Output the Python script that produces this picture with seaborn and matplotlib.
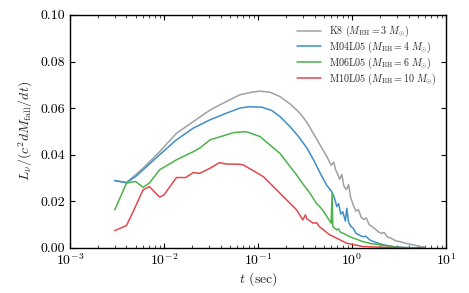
import numpy as np
import pandas as pd
import seaborn as sns
import matplotlib
matplotlib.use("Agg")
import matplotlib.pyplot as plt
from matplotlib.ticker import LogLocator, NullFormatter

# ---- data ----
labels = [r"K8 ($M_{\rm BH}=3\ M_{\odot}$)",
          r"M04L05 ($M_{\rm BH}=4\ M_{\odot}$)",
          r"M06L05 ($M_{\rm BH}=6\ M_{\odot}$)",
          r"M10L05 ($M_{\rm BH}=10\ M_{\odot}$)"]
colors = ["#a0a0a0", "#3d8fc9", "#4cb34c", "#e04a4f"]

t_k8 = [0.003, 0.004, 0.006, 0.009, 0.0136, 0.0205, 0.031, 0.046, 0.064, 0.085,
        0.105, 0.135, 0.171, 0.22, 0.28, 0.33, 0.39, 0.46, 0.54, 0.60, 0.64, 0.67,
        0.70, 0.74, 0.78, 0.82, 0.87, 0.92, 0.97, 1.03, 1.1, 1.17, 1.25, 1.33, 1.42,
        1.52, 1.62, 1.75, 1.9, 2.05, 2.2, 2.4, 2.6, 2.8, 3.0, 3.3, 3.6, 4.0, 4.5,
        5.0, 5.7, 6.0]
L_k8 = [0.0289, 0.0280, 0.0342, 0.0413, 0.0492, 0.0542, 0.0592, 0.0628, 0.0657, 0.0668,
        0.0673, 0.0668, 0.0650, 0.0618, 0.0578, 0.0540, 0.0490, 0.0440, 0.0392, 0.0355,
        0.0368, 0.0335, 0.0320, 0.0295, 0.0315, 0.0265, 0.0250, 0.0272, 0.0215, 0.0185,
        0.0158, 0.0165, 0.0132, 0.0122, 0.0128, 0.0100, 0.0092, 0.0082, 0.0070, 0.0062,
        0.0066, 0.0046, 0.0042, 0.0034, 0.0029, 0.0026, 0.0021, 0.0017, 0.0013, 0.0008,
        0.0004, 0.0002]

t_m04 = [0.003, 0.004, 0.005, 0.006, 0.009, 0.0136, 0.0205, 0.031, 0.046, 0.064, 0.08,
         0.11, 0.14, 0.171, 0.22, 0.27, 0.33, 0.39, 0.46, 0.54, 0.60, 0.62, 0.65, 0.69,
         0.72, 0.76, 0.80, 0.85, 0.88, 0.92, 0.97, 1.03, 1.1, 1.2, 1.3, 1.4, 1.55, 1.75,
         2.0, 2.3, 2.7, 3.0, 3.5, 4.5]
L_m04 = [0.0289, 0.0280, 0.0306, 0.0335, 0.0400, 0.0464, 0.0514, 0.0550, 0.0578, 0.0600,
         0.0606, 0.0604, 0.0590, 0.0564, 0.0520, 0.0478, 0.0430, 0.0378, 0.0320, 0.0268,
         0.0245, 0.0235, 0.0215, 0.0177, 0.0190, 0.0145, 0.0155, 0.0115, 0.0170, 0.0110,
         0.0092, 0.0085, 0.0063, 0.0055, 0.0048, 0.0050, 0.0034, 0.0025, 0.0017, 0.0011,
         0.0006, 0.0004, 0.0002, 0.0001]

t_m06 = [0.003, 0.004, 0.005, 0.006, 0.007, 0.009, 0.0136, 0.0205, 0.024, 0.031, 0.046,
         0.055, 0.075, 0.105, 0.171, 0.258, 0.30, 0.357, 0.42, 0.46, 0.50, 0.60, 0.615,
         0.625, 0.65, 0.69, 0.72, 0.75, 0.80, 0.85, 0.95, 1.1, 1.3, 1.6, 2.0, 2.5, 3.0, 3.5]
L_m06 = [0.0163, 0.0278, 0.0285, 0.0260, 0.0278, 0.0335, 0.0378, 0.0413, 0.0428, 0.0464,
         0.0485, 0.0495, 0.0499, 0.0478, 0.0406, 0.0313, 0.0275, 0.0235, 0.0190, 0.0175,
         0.0156, 0.0106, 0.0235, 0.0092, 0.0085, 0.0077, 0.0082, 0.0068, 0.0063, 0.0058,
         0.0048, 0.0038, 0.0027, 0.0018, 0.0013, 0.0007, 0.0002, 0.0001]

t_m10 = [0.003, 0.004, 0.0048, 0.006, 0.007, 0.009, 0.010, 0.0136, 0.017, 0.0205, 0.024,
         0.031, 0.039, 0.046, 0.064, 0.070, 0.114, 0.171, 0.258, 0.30, 0.32, 0.33, 0.36,
         0.387, 0.42, 0.45, 0.58, 0.70, 0.877, 1.3, 2.0, 3.0, 6.0]
L_m10 = [0.0074, 0.0096, 0.0163, 0.0249, 0.0263, 0.0218, 0.0227, 0.0302, 0.0302, 0.0323,
         0.0320, 0.0342, 0.0366, 0.0360, 0.0359, 0.0356, 0.0306, 0.0235, 0.0163, 0.0120,
         0.0142, 0.0125, 0.0115, 0.0106, 0.0108, 0.0091, 0.0056, 0.0040, 0.0020, 0.0006,
         0.0003, 0.0001, 0.0]

series_t = [t_k8, t_m04, t_m06, t_m10]
series_L = [L_k8, L_m04, L_m06, L_m10]

# ---- style ----
sns.set_theme(style="ticks")
plt.rcParams.update({
    "font.family": ["cmr10", "DejaVu Serif"],
    "mathtext.fontset": "cm",
    "axes.formatter.use_mathtext": True,
    "axes.unicode_minus": False,
    "font.size": 10,
    "xtick.direction": "in",
    "ytick.direction": "in",
    "xtick.top": True,
    "ytick.right": True,
    "axes.linewidth": 1.0,
    "axes.edgecolor": "black",
})

frames = []
for lab, t, L in zip(labels, series_t, series_L):
    frames.append(pd.DataFrame({"t": t, "L": L, "model": lab}))
df = pd.concat(frames, ignore_index=True)

fig = plt.figure(figsize=(4.69, 2.93), dpi=100)
ax = fig.add_axes([0.149, 0.154, 0.802, 0.795])

sns.lineplot(data=df, x="t", y="L", hue="model", palette=colors,
             estimator=None, sort=False, lw=1.1, ax=ax)

ax.set_xscale("log")
ax.set_xlim(1e-3, 10)
ax.set_ylim(0, 0.1)
ax.set_yticks([0.0, 0.02, 0.04, 0.06, 0.08, 0.10])
ax.set_yticklabels(["0.00", "0.02", "0.04", "0.06", "0.08", "0.10"])
ax.xaxis.set_minor_locator(LogLocator(base=10, subs=np.arange(2, 10), numticks=20))
ax.xaxis.set_minor_formatter(NullFormatter())
ax.tick_params(which="major", length=3.5, width=0.8, colors="black", labelsize=10)
ax.tick_params(which="minor", length=2, width=0.6)
ax.set_xlabel(r"$t$ (sec)", fontsize=10, labelpad=1)
ax.set_ylabel(r"$L_\nu/(c^2 dM_{\rm fall}/dt)$", fontsize=10, labelpad=4)

leg = ax.legend(loc="upper right", frameon=False, fontsize=7.2,
                handlelength=2.4, handletextpad=0.8, labelspacing=0.05,
                borderaxespad=0.5)

fig.savefig("out.png", dpi=100)
